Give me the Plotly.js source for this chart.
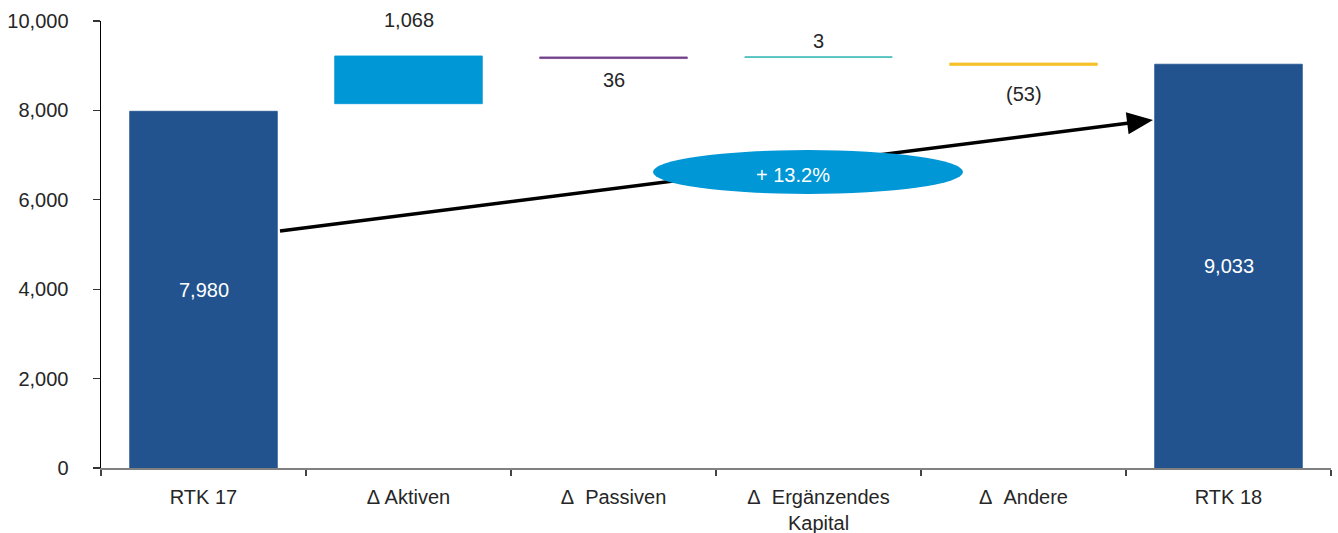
<!DOCTYPE html>
<html>
<head>
<meta charset="utf-8">
<script src="https://cdn.plot.ly/plotly-3.0.1.min.js"></script>
<style>
  html, body { margin: 0; padding: 0; background: #ffffff; }
  #chart { width: 1338px; height: 533px; }
</style>
</head>
<body>
<div id="chart"></div>
<script>
// Bridge of RTK 17 to RTK 18 (values in CHF m)
const categories = ['RTK 17', 'Δ Aktiven', 'Δ\u00a0 Passiven', 'Δ\u00a0 Ergänzendes<br>Kapital', 'Δ\u00a0 Andere', 'RTK 18'];
const changes = [7980, 1068, 36, 3, -53, 9033];
const stepStart = [0, 8150, 9160, 9192, 9060, 0];
const isTotal = [true, false, false, false, false, true];
const barColors = ['#22538F', '#0097D6', '#74418C', '#00A7A3', '#F6C22D', '#22538F'];
const yTickValues = [0, 2000, 4000, 6000, 8000, 10000];
const growthLabel = '+ 13.2%';

const FONT = 'Liberation Sans, Arial, sans-serif';
const TEXT = '#262626';
const FS = 20;

// plot-area geometry (pixels)
const M = { l: 101, r: 7, t: 21, b: 65 };
const W = 1338, H = 533;
const PW = W - M.l - M.r, PH = H - M.t - M.b;
const px = x => (x - M.l) / PW;
const py = y => (H - M.b - y) / PH;

function fmt(v) {
  const s = Math.abs(v).toLocaleString('en-US');
  return v < 0 ? '(' + s + ')' : s;
}

const trace = {
  type: 'bar',
  x: categories,
  y: changes,
  base: stepStart,
  width: 0.72,
  marker: { color: barColors, line: { color: barColors, width: 0.8 } },
  hoverinfo: 'skip'
};

// value labels: totals inside the bar, steps above/below the step
const labelShift = [0, 36, -21, 16, -29, 0];
const annotations = categories.map((c, i) => {
  if (isTotal[i]) {
    return { x: c, y: changes[i] / 2, text: fmt(changes[i]), showarrow: false,
             font: { family: FONT, size: FS, color: '#ffffff' }, xanchor: 'center', yanchor: 'middle' };
  }
  const top = Math.max(stepStart[i], stepStart[i] + changes[i]);
  const bottom = Math.min(stepStart[i], stepStart[i] + changes[i]);
  const up = labelShift[i] > 0;
  return { x: c, y: up ? top : bottom, yshift: labelShift[i], text: fmt(changes[i]), showarrow: false,
           font: { family: FONT, size: FS, color: TEXT }, xanchor: 'center', yanchor: 'middle' };
});
annotations.push({
  xref: 'paper', yref: 'paper', x: px(793), y: py(175), text: growthLabel, showarrow: false,
  font: { family: FONT, size: FS, color: '#ffffff' }, xanchor: 'center', yanchor: 'middle'
});

// growth arrow with a filled head, then the ellipse on top of it
const tail = [280, 231], tip = [1153, 120];
const dx = tip[0] - tail[0], dy = tip[1] - tail[1];
const len = Math.hypot(dx, dy), ux = dx / len, uy = dy / len;
const headLen = 26, headHalf = 11;
const bx = tip[0] - ux * headLen, by = tip[1] - uy * headLen;
const c1 = [bx - uy * headHalf, by + ux * headHalf];
const c2 = [bx + uy * headHalf, by - ux * headHalf];
const P = p => px(p[0]).toFixed(5) + ',' + py(p[1]).toFixed(5);

const shapes = [
  { type: 'line', xref: 'paper', yref: 'paper', layer: 'above',
    x0: px(tail[0]), y0: py(tail[1]), x1: px(bx + ux * 2), y1: py(by + uy * 2),
    line: { color: '#000000', width: 3.5 } },
  { type: 'path', xref: 'paper', yref: 'paper', layer: 'above',
    path: 'M' + P(tip) + ' L' + P(c1) + ' L' + P(c2) + ' Z',
    fillcolor: '#000000', line: { width: 0 } },
  { type: 'circle', xref: 'paper', yref: 'paper', layer: 'above',
    x0: px(653), x1: px(963), y0: py(194), y1: py(150),
    fillcolor: '#0097D6', line: { width: 0 } }
];

const layout = {
  width: W, height: H,
  margin: M,
  paper_bgcolor: '#ffffff', plot_bgcolor: '#ffffff',
  showlegend: false,
  font: { family: FONT, size: FS, color: TEXT },
  xaxis: {
    type: 'category', range: [-0.5, 5.5], tickson: 'boundaries',
    ticks: 'outside', ticklen: 6, tickwidth: 1.5, tickcolor: '#444444',
    showline: true, linecolor: '#808080', linewidth: 2,
    showgrid: false, zeroline: false, fixedrange: true,
    ticklabelstandoff: 10,
    tickfont: { family: FONT, size: FS, color: TEXT }
  },
  yaxis: {
    range: [0, 10000], tickvals: yTickValues, tickformat: ',d',
    ticks: 'outside', ticklen: 7, tickwidth: 1.2, tickcolor: '#333333',
    showline: true, linecolor: '#000000', linewidth: 1.5,
    showgrid: false, zeroline: false, fixedrange: true,
    ticklabelstandoff: 20,
    tickfont: { family: FONT, size: FS, color: TEXT }
  },
  annotations: annotations,
  shapes: shapes
};

Plotly.newPlot('chart', [trace], layout, { displayModeBar: false, staticPlot: true });
</script>
</body>
</html>
